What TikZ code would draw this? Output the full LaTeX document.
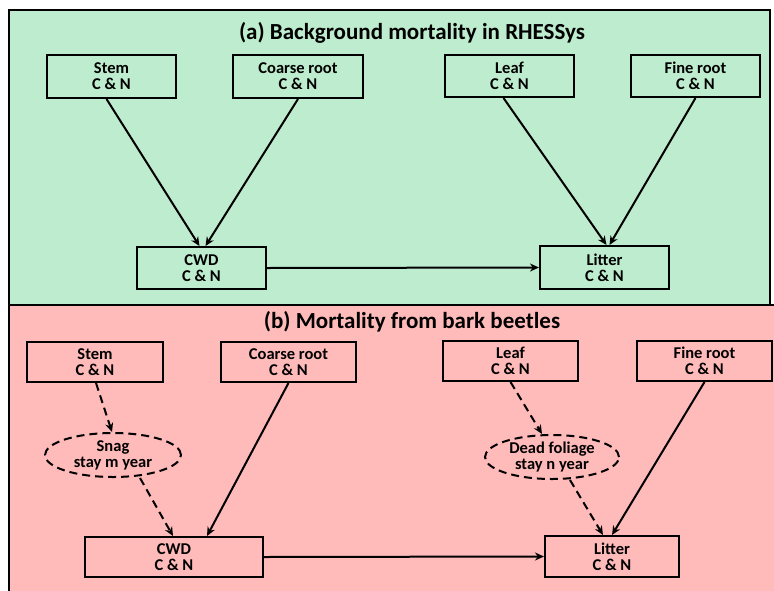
\documentclass[tikz,border=0pt]{standalone}
\usepackage{fontspec}
\setmainfont{Carlito}
\usetikzlibrary{shapes.geometric,arrows.meta}
\definecolor{pgreen}{RGB}{190,236,206}
\definecolor{ppink}{RGB}{255,186,186}
\tikzset{
  pool/.style={draw=black,line width=2pt,inner sep=0pt,align=center,font=\bfseries\fontsize{16.5}{16}\selectfont},
  tmpst/.style={draw=black,dash pattern=on 8pt off 5pt,line width=2pt,ellipse,inner sep=0pt,align=center,font=\bfseries\fontsize{16.5}{16}\selectfont},
  flow/.style={-{Stealth[length=9pt,width=8pt]},line width=2pt},
  dflow/.style={flow,dash pattern=on 8pt off 5pt},
  ttl/.style={font=\bfseries\fontsize{23}{24}\selectfont}
}
\begin{document}
\begin{tikzpicture}[x=1pt,y=-1pt]
\useasboundingbox (0,0) rectangle (774,590);
\begin{scope}
\clip (0,0) rectangle (774,590);
\fill[white] (0,0) rectangle (774,590);
\filldraw[fill=pgreen,draw=black,line width=2.4pt] (9,10) rectangle (770,305);
\fill[ppink] (9,305) rectangle (780,600);
\draw[line width=2.4pt] (9,600) -- (9,305) -- (780,305);
\end{scope}
% panel a
\node[ttl] (ta) at (412,33) {(a) Background mortality in RHESSys};
\node[pool,minimum width=129pt,minimum height=43pt] (as) at (111.5,76.5) {Stem\\C \& N};
\node[pool,minimum width=130pt,minimum height=43pt] (ac) at (298,76.5) {Coarse root\\C \& N};
\node[pool,minimum width=129pt,minimum height=42pt] (al) at (509.5,76) {Leaf\\C \& N};
\node[pool,minimum width=129pt,minimum height=42pt] (af) at (695.5,76) {Fine root\\C \& N};
\node[pool,minimum width=129pt,minimum height=42pt] (aw) at (201.5,268) {CWD\\C \& N};
\node[pool,minimum width=129pt,minimum height=43pt] (at) at (604.5,267.5) {Litter\\C \& N};
\draw[flow] (as.south)++(-5,0) -- ([xshift=-2pt]aw.north);
\draw[flow] (ac.south) -- ([xshift=4pt]aw.north);
\draw[flow] (al.south)++(-6,0) -- ([xshift=2pt]at.north);
\draw[flow] (af.south) -- ([xshift=5pt]at.north);
\draw[flow] (aw.east) -- (at.west);
% panel b
\node[ttl] (tb) at (412,322) {(b) Mortality from bark beetles};
\node[pool,minimum width=136pt,minimum height=40pt] (bs) at (95,362) {Stem\\C \& N};
\node[pool,minimum width=135pt,minimum height=40pt] (bc) at (288.5,362) {Coarse root\\C \& N};
\node[pool,minimum width=135pt,minimum height=40pt] (bl) at (510.5,361) {Leaf\\C \& N};
\node[pool,minimum width=135pt,minimum height=40pt] (bf) at (704.5,361) {Fine root\\C \& N};
\node[tmpst,minimum width=136pt,minimum height=44pt] (bn) at (113,455) {Snag\\stay m year};
\node[tmpst,minimum width=134pt,minimum height=44pt] (bd) at (552,457) {Dead foliage\\stay n year};
\node[pool,minimum width=178pt,minimum height=40pt] (bw) at (174,557) {CWD\\C \& N};
\node[pool,minimum width=134pt,minimum height=41pt] (bt) at (612,556.5) {Litter\\C \& N};
\draw[dflow] ([xshift=1pt]bs.south) -- ([xshift=-1pt]bn.north);
\draw[dflow] ([xshift=27pt]bn.south) -- ([xshift=-1pt]bw.north);
\draw[flow] (bc.south) -- ([xshift=33pt]bw.north);
\draw[dflow] (bl.south) -- ([xshift=-10pt]bd.north);
\draw[dflow] ([xshift=18pt]bd.south) -- ([xshift=-9pt]bt.north);
\draw[flow] (bf.south) -- ([xshift=0pt]bt.north);
\draw[flow] (bw.east) -- (bt.west);
\end{tikzpicture}
\end{document}
